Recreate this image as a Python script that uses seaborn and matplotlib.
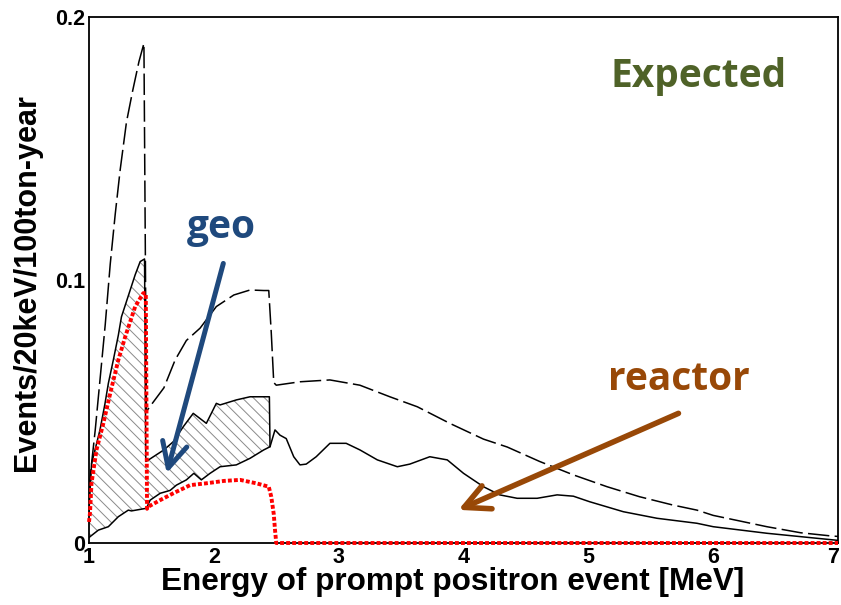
import numpy as np
import matplotlib
matplotlib.use("Agg")
import matplotlib.pyplot as plt
from matplotlib.ticker import MultipleLocator, FixedLocator, FixedFormatter
import matplotlib.transforms as mtransforms
import seaborn as sns

# ---------------- data ----------------
# no-oscillation expectation (reactor + geo), dashed
E_nosc = np.array([1.00, 1.02, 1.05, 1.09, 1.13, 1.17, 1.21, 1.25, 1.30, 1.35, 1.40, 1.44,
                   1.46, 1.49, 1.60, 1.69, 1.78, 1.89, 2.02, 2.16, 2.29, 2.40, 2.44, 2.46,
                   2.48, 2.50, 2.69, 2.93, 3.17, 3.41, 3.63, 3.89, 4.16, 4.35, 4.61, 4.88,
                   5.15, 5.41, 5.68, 5.87, 6.00, 6.43, 6.70, 6.94, 7.00])
v_nosc = np.array([0.020, 0.030, 0.043, 0.063, 0.083, 0.106, 0.125, 0.142, 0.160, 0.172, 0.183, 0.190,
                   0.050, 0.052, 0.059, 0.0696, 0.077, 0.0817, 0.0899, 0.0943, 0.0962, 0.0960, 0.0960, 0.080,
                   0.061, 0.060, 0.0613, 0.062, 0.060, 0.0556, 0.0518, 0.0455, 0.0395, 0.0365, 0.0310, 0.0259,
                   0.0214, 0.0176, 0.0144, 0.0125, 0.0105, 0.0062, 0.0039, 0.0027, 0.0025])

# expected geo-neutrino spectrum, red dotted
E_geo = np.array([1.00, 1.008, 1.02, 1.06, 1.115, 1.17, 1.235, 1.29, 1.37, 1.435, 1.455, 1.465,
                  1.475, 1.57, 1.675, 1.81, 1.94, 2.08, 2.21, 2.34, 2.44, 2.46, 2.48, 2.49, 2.50, 7.00])
v_geo = np.array([0.008, 0.0114, 0.0227, 0.0354, 0.0455, 0.0569, 0.0696, 0.0784, 0.0899, 0.095, 0.095, 0.013,
                  0.0138, 0.0163, 0.0189, 0.022, 0.0227, 0.0236, 0.024, 0.0227, 0.0214, 0.0176, 0.011, 0.005, 0.0, 0.0])

# expected reactor spectrum (with oscillation), solid
E_rea = np.array([1.00, 1.008, 1.075, 1.155, 1.235, 1.315, 1.34, 1.46, 1.49, 1.57, 1.65, 1.70, 1.78,
                  1.84, 1.90, 1.97, 2.05, 2.18, 2.29, 2.40, 2.45, 2.49, 2.53, 2.58, 2.64, 2.69, 2.74,
                  2.82, 2.93, 3.06, 3.17, 3.31, 3.47, 3.57, 3.73, 3.87, 4.00, 4.16, 4.29, 4.43, 4.59,
                  4.75, 4.88, 5.01, 5.28, 5.55, 5.87, 6.00, 6.43, 6.83, 7.00])
v_rea = np.array([0.002, 0.0024, 0.0049, 0.0062, 0.010, 0.0125, 0.0122, 0.0132, 0.0163, 0.0189, 0.020, 0.022, 0.024,
                  0.0265, 0.024, 0.0265, 0.029, 0.0297, 0.0322, 0.0354, 0.0366, 0.043, 0.041, 0.0397, 0.0328, 0.0297, 0.030,
                  0.0328, 0.0379, 0.0379, 0.0354, 0.0316, 0.029, 0.030, 0.0328, 0.0316, 0.0265, 0.0214, 0.0183, 0.017, 0.017,
                  0.0183, 0.0178, 0.0157, 0.0119, 0.0094, 0.0075, 0.0062, 0.0037, 0.0018, 0.001])

# reactor + geo (upper edge of the hatched band), solid
E_up = np.array([1.00, 1.02, 1.048, 1.088, 1.128, 1.155, 1.195, 1.235, 1.26, 1.315, 1.37, 1.41, 1.445,
                 1.455, 1.49, 1.60, 1.675, 1.755, 1.835, 1.94, 2.02, 2.05, 2.18, 2.29, 2.445, 2.45])
v_up = np.array([0.012, 0.030, 0.0354, 0.043, 0.053, 0.0607, 0.0696, 0.079, 0.086, 0.094, 0.102, 0.107, 0.108,
                 0.031, 0.032, 0.0354, 0.0385, 0.0442, 0.0493, 0.0455, 0.0531, 0.0525, 0.0544, 0.0556, 0.0556, 0.0366])

x_ticks = [1, 2, 3, 4, 5, 6, 7]
x_tick_labels = ["1", "2", "3", "4", "5", "6", "7"]
y_ticks = [0, 0.1, 0.2]
y_tick_labels = ["0", "0.1", "0.2"]

# ---------------- style ----------------
sns.set_theme(style="white")
plt.rcParams['font.family'] = ['Liberation Sans', 'DejaVu Sans']
plt.rcParams['axes.edgecolor'] = 'black'
plt.rcParams['xtick.color'] = 'black'
plt.rcParams['ytick.color'] = 'black'
plt.rcParams['text.color'] = 'black'
plt.rcParams['hatch.linewidth'] = 0.7
plt.rcParams['hatch.color'] = '#8a8a8a'

W, H = 841, 605
fig = plt.figure(figsize=(W / 100, H / 100), dpi=100)
L, R, T, B = 89, 838, 17, 543
ax = fig.add_axes([L / W, 1 - B / H, (R - L) / W, (B - T) / H])

# hatched geo band between reactor and reactor+geo
mask = E_rea <= 2.45
poly_x = np.concatenate([E_up, E_rea[mask][::-1]])
poly_y = np.concatenate([v_up, v_rea[mask][::-1]])
ax.fill(poly_x, poly_y, facecolor='none', edgecolor='#8a8a8a', hatch='\\\\\\', linewidth=0, zorder=1)

# lines
sns.lineplot(x=E_nosc, y=v_nosc, sort=False, estimator=None, color='black', lw=1.1, ax=ax, zorder=2)
ax.lines[-1].set_linestyle((0, (14, 3.5)))
sns.lineplot(x=E_rea, y=v_rea, sort=False, estimator=None, color='black', lw=1.1, ax=ax, zorder=2)
sns.lineplot(x=E_up, y=v_up, sort=False, estimator=None, color='black', lw=1.1, ax=ax, zorder=2)
sns.lineplot(x=E_geo, y=v_geo, sort=False, estimator=None, color='red', lw=2.8, ax=ax, zorder=4)
ax.lines[-1].set_linestyle((0, (1, 0.55)))
ax.lines[-1].set_clip_on(False)

ax.set_xlim(1, 7)
ax.set_ylim(0, 0.2)
ax.xaxis.set_major_locator(FixedLocator(x_ticks))
ax.xaxis.set_major_formatter(FixedFormatter(x_tick_labels))
ax.xaxis.set_minor_locator(MultipleLocator(0.2))
ax.yaxis.set_major_locator(FixedLocator(y_ticks))
ax.yaxis.set_major_formatter(FixedFormatter(y_tick_labels))
ax.yaxis.set_minor_locator(MultipleLocator(0.02))

ax.tick_params(which='both', direction='in', top=False, right=False, width=1.0, colors='black')
ax.tick_params(axis='x', which='major', length=12, labelsize=15.5, pad=3)
ax.tick_params(axis='x', which='minor', length=7)
ax.tick_params(axis='y', which='major', length=14, labelsize=15.5, pad=3)
ax.tick_params(axis='y', which='minor', length=7.5)
for lab in ax.get_xticklabels() + ax.get_yticklabels():
    lab.set_fontweight('bold')
# keep the last x tick label inside the figure
last = ax.get_xticklabels()[-1]
last.set_transform(last.get_transform() + mtransforms.Affine2D().translate(-5, 0))
for s in ax.spines.values():
    s.set_linewidth(1.3)
    s.set_color('black')
    s.set_visible(True)

ax.set_xlabel('')
ax.set_ylabel('')
fig.text(453 / W, 1 - 590 / H, 'Energy of prompt positron event [MeV]', ha='center', va='baseline',
         fontsize=22.7, fontweight='bold')
fig.text(27 / W, 1 - 283 / H, 'Events/20keV/100ton-year', ha='center', va='center', rotation=90,
         fontsize=22, fontweight='bold')

# annotations
fig.text(610 / W, 1 - 87 / H, 'Expected', ha='left', va='baseline', fontsize=28, fontweight='bold',
         family=['Open Sans', 'DejaVu Sans'], color='#4F6228')
fig.text(187 / W, 1 - 238 / H, 'geo', ha='left', va='baseline', fontsize=28, fontweight='bold',
         family=['Open Sans', 'DejaVu Sans'], color='#1F497D')
fig.text(608 / W, 1 - 390 / H, 'reactor', ha='left', va='baseline', fontsize=28, fontweight='bold',
         family=['Open Sans', 'DejaVu Sans'], color='#984807')

ax.annotate('', xy=(1.623, 0.0265), xytext=(2.076, 0.1063),
            arrowprops=dict(arrowstyle='->,head_length=0.9,head_width=0.45', color='#1F497D', lw=3.6,
                            mutation_scale=20, shrinkA=0, shrinkB=0), zorder=5)
ax.annotate('', xy=(3.959, 0.0126), xytext=(5.722, 0.0493),
            arrowprops=dict(arrowstyle='->,head_length=0.9,head_width=0.45', color='#984807', lw=4,
                            mutation_scale=20, shrinkA=0, shrinkB=0), zorder=5)

fig.savefig('out.png', dpi=100, facecolor='white')
